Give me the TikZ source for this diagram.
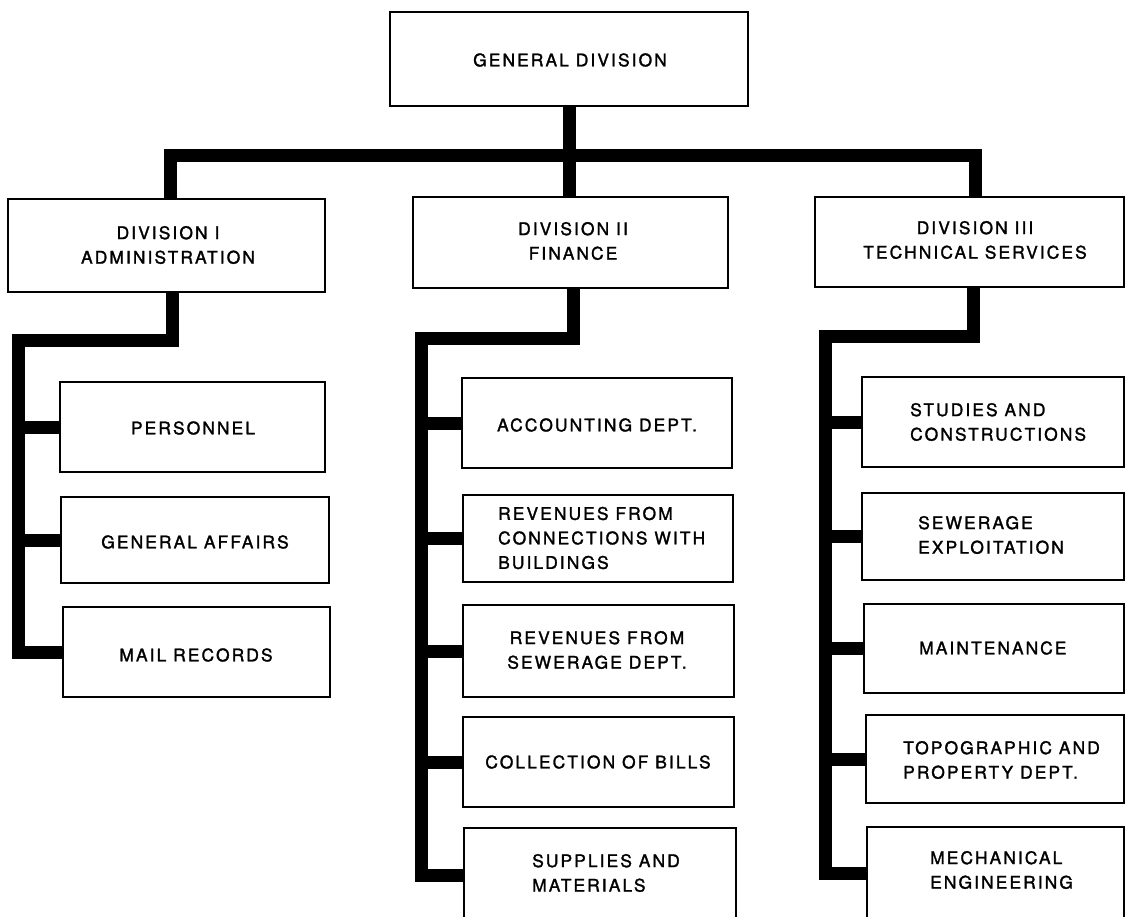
\documentclass[tikz,border=0pt]{standalone}
\usepackage{fontspec}
\setmainfont{TeX Gyre Heros}[LetterSpace=12, FakeBold=1.6]
% a framed box given by its corners: name, x1, y1, x2, y2
\newcommand{\orgbox}[5]{%
  \node[box, minimum width={#4-#2}, minimum height={#5-#3}] (#1)
    at ({(#2+#4)/2},{(#3+#5)/2}) {};}
\begin{document}
\begin{tikzpicture}[x=1pt,y=-1pt,
  box/.style={draw, line width=2.7pt, rectangle, inner sep=0pt, outer sep=0pt},
  lbl/.style={font=\fontsize{17.4}{24.5}\selectfont, align=center, inner sep=0pt},
  lbll/.style={lbl, align=left, anchor=west},
  bus/.style={line width=13pt, line join=miter, line cap=butt}]
\useasboundingbox (0,0) rectangle (1126,916);
\clip (0,0) rectangle (1126,916);

% top level
\orgbox{gd}{390}{12}{748}{106}
\node[lbl] (gdt) at (570,60) {GENERAL DIVISION};

% divisions
\orgbox{d1}{8}{199}{325}{292}
\orgbox{d2}{413}{197}{728}{288}
\orgbox{d3}{815}{197}{1124}{287}
\node[lbl] (d1t) at (168,245) {DIVISION I\\ADMINISTRATION};
\node[lbl] (d2t) at (573,241) {DIVISION II\\FINANCE};
\node[lbl] (d3t) at (975,240) {DIVISION III\\TECHNICAL SERVICES};

% Division I departments
\orgbox{p1}{60}{382}{325}{472}
\orgbox{p2}{61}{497}{329}{583}
\orgbox{p3}{63}{607}{330}{697}
\node[lbl] (p1t) at (193,428) {PERSONNEL};
\node[lbl] (p2t) at (195,542) {GENERAL AFFAIRS};
\node[lbl] (p3t) at (196,655) {MAIL RECORDS};

% Division II departments
\orgbox{f1}{462}{378}{732}{468}
\orgbox{f2}{463}{495}{733}{582}
\orgbox{f3}{463}{605}{734}{697}
\orgbox{f4}{463}{717}{734}{807}
\orgbox{f5}{464}{828}{736}{922}
\node[lbl] (f1t) at (597,425) {ACCOUNTING DEPT.};
\node[lbll] (f2t) at (498,538) {REVENUES FROM\\CONNECTIONS WITH\\BUILDINGS};
\node[lbl] (f3t) at (597,650) {REVENUES FROM\\SEWERAGE DEPT.};
\node[lbl] (f4t) at (598,762) {COLLECTION OF BILLS};
\node[lbll] (f5t) at (532,873) {SUPPLIES AND\\MATERIALS};

% Division III departments
\orgbox{s1}{862}{377}{1124}{467}
\orgbox{s2}{862}{493}{1124}{580}
\orgbox{s3}{864}{604}{1124}{693}
\orgbox{s4}{866}{715}{1124}{803}
\orgbox{s5}{867}{827}{1124}{919}
\node[lbll] (s1t) at (910,422) {STUDIES AND\\CONSTRUCTIONS};
\node[lbll] (s2t) at (918,535) {SEWERAGE\\EXPLOITATION};
\node[lbll] (s3t) at (919,648) {MAINTENANCE};
\node[lbll] (s4t) at (903,760) {TOPOGRAPHIC AND\\PROPERTY DEPT.};
\node[lbll] (s5t) at (930,870) {MECHANICAL\\ENGINEERING};

% main bus
\coordinate (barL) at (170,155);
\coordinate (barR) at (975,155);
\draw[bus] (gd.south) -- (gd.south |- d2.north);
\draw[bus] (barL |- d1.north) -- (barL) -- (barR) -- (barR |- d3.north);

% Division I branch
\coordinate (k1) at (172,340);
\coordinate (v1) at (18,340);
\draw[bus] (k1 |- d1.south) -- (k1) -- (v1) |- (p3.west);
\foreach \b in {p1,p2} \draw[bus] (v1 |- \b.west) -- (\b.west);

% Division II branch
\coordinate (k2) at (573,338);
\coordinate (v2) at (421,338);
\draw[bus] (k2 |- d2.south) -- (k2) -- (v2) |- (f5.west);
\foreach \b in {f1,f2,f3,f4} \draw[bus] (v2 |- \b.west) -- (\b.west);

% Division III branch
\coordinate (k3) at (973,336);
\coordinate (v3) at (825,336);
\draw[bus] (k3 |- d3.south) -- (k3) -- (v3) |- (s5.west);
\foreach \b in {s1,s2,s3,s4} \draw[bus] (v3 |- \b.west) -- (\b.west);
\end{tikzpicture}
\end{document}
